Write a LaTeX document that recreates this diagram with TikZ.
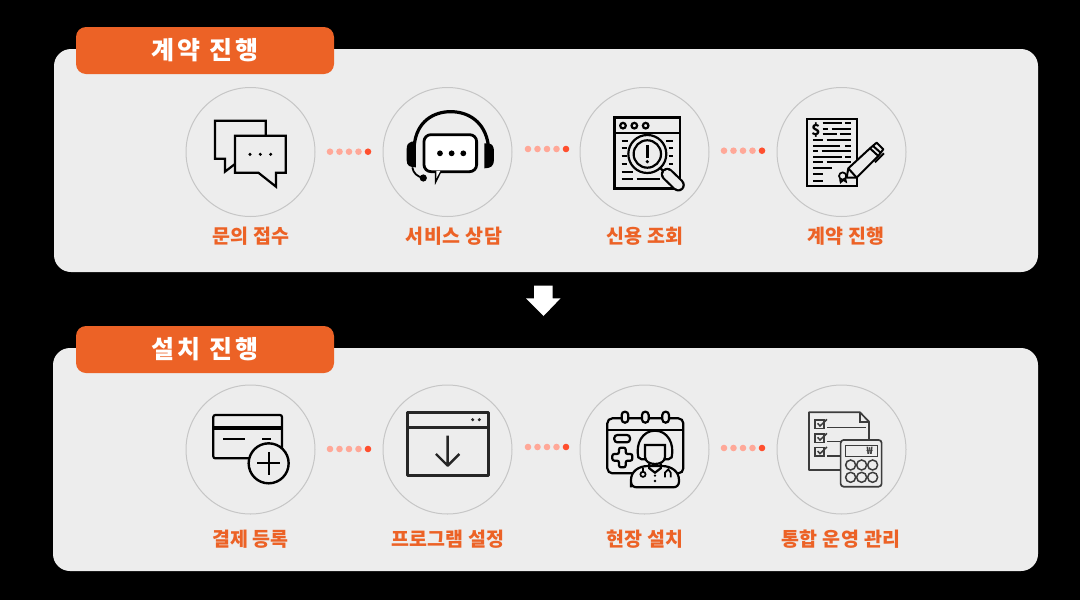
\documentclass[tikz,border=0pt]{standalone}
\usepackage{fontspec}
\newfontfamily\krfont{Noto Sans CJK KR}
\definecolor{brandorange}{HTML}{EC6226}
\definecolor{panelgray}{HTML}{EDEDED}
\definecolor{ringgray}{HTML}{C6C6C6}
\definecolor{pipsoft}{HTML}{FFA898}
\definecolor{piphard}{HTML}{FF4F2E}
\definecolor{calcgray}{HTML}{3C3C3C}
\tikzset{
  panelbox/.style={fill=panelgray,rounded corners=17pt,minimum width=985pt,minimum height=223pt,inner sep=0pt},
  titlebox/.style={fill=brandorange,rounded corners=10pt,minimum width=258pt,minimum height=47pt,inner sep=0pt,text=white,font=\krfont\bfseries\fontsize{25}{28}\selectfont},
  iconring/.style={circle,draw=ringgray,line width=1pt,minimum size=129pt,inner sep=0pt},
  steplabel/.style={text=brandorange,inner sep=0pt,font=\krfont\bfseries\fontsize{19.5}{22}\selectfont},
  pip/.style={circle,fill=pipsoft,minimum size=6.6pt,inner sep=0pt},
  piplast/.style={circle,fill=piphard,minimum size=6.6pt,inner sep=0pt},
  glyph/.style={draw=black,line width=2.2pt},
  rowa/.style={shift={(#1,80)},x=0.3333pt,y=-0.3333pt},
  rowb/.style={shift={(#1,380)},x=0.3333pt,y=-0.3333pt}
}
\begin{document}
\begin{tikzpicture}[x=1pt,y=-1pt]
  \useasboundingbox (0,0) rectangle (1080,600);
  \fill[black] (0,0) rectangle (1080,600);
  \node[panelbox,minimum width=984pt] (contractpanel) at (546,160.5) {};
  \node[panelbox] (setuppanel) at (545.5,459.5) {};
  \node[titlebox] (contracttitle) at (205,50.5) {\addfontfeature{LetterSpace=12}계약 진행};
  \node[titlebox] (setuptitle) at (205,349.5) {\addfontfeature{LetterSpace=12}설치 진행};
  \node[iconring] (inquiry) at (250.5,152) {};
  \node[iconring] (consult) at (447.5,152) {};
  \node[iconring] (credit) at (644.5,152) {};
  \node[iconring] (signing) at (841.5,152) {};
  \node[iconring] (payment) at (250.5,449.5) {};
  \node[iconring] (program) at (447.5,449.5) {};
  \node[iconring] (visit) at (644.5,449.5) {};
  \node[iconring] (manage) at (841.5,449.5) {};
  \node[steplabel] (inquirytext) at (251,236.5) {문의 접수};
  \node[steplabel] (consulttext) at (454,236.5) {\addfontfeature{LetterSpace=2.5}서비스 상담};
  \node[steplabel] (credittext) at (645,236.5) {신용 조회};
  \node[steplabel] (signingtext) at (846,236.5) {계약 진행};
  \node[steplabel] (paymenttext) at (250.5,539.5) {결제 등록};
  \node[steplabel] (programtext) at (448,539.5) {프로그램 설정};
  \node[steplabel] (visittext) at (645,539.5) {현장 설치};
  \node[steplabel] (managetext) at (841,539.5) {\addfontfeature{LetterSpace=3}통합 운영 관리};
  \foreach \name/\px/\py in {a/330/151.7,b/528/149,c/724/150.7,d/330/449,e/528/447,f/724/448} {
    \foreach \i in {0,1,2,3} {
      \node[pip] (pip\name\i) at ({\px+9.5*\i},\py) {};
    }
    \node[piplast] (pip\name4) at ({\px+38},\py) {};
  }
  \fill[white] (534,285.7) -- (552.7,285.7) -- (552.7,298.3) -- (560.5,298.3) -- (543.5,316) -- (526,298.3) -- (534,298.3) -- cycle;
  \begin{scope}[rowa=180]
    \draw[glyph] (257,165) -- (257,122) -- (105,122) -- (105,236) -- (135,236) -- (135,275) -- (165,252);
    \draw[glyph] (165,167) -- (317,167) -- (317,278) -- (288,278) -- (288,320) -- (235,278) -- (165,278) -- cycle;
    \foreach \dx in {210,241,272} { \fill (\dx,223) circle (1.7pt); }
    \draw[line width=3.2pt] (703,195) .. controls (710,125) and (760,95) .. (812,95) .. controls (865,95) and (915,125) .. (925,195);
    \fill (708,185) -- (695,185) .. controls (683,190) and (680,195) .. (680,210) -- (680,240) .. controls (680,258) and (690,262) .. (708,262) -- cycle;
    \fill (913,190) -- (925,190) .. controls (938,192) and (942,200) .. (942,215) -- (942,240) .. controls (942,258) and (932,265) .. (913,265) -- cycle;
    \draw[line width=1.8pt] (697,262) .. controls (700,280) and (712,290) .. (730,294);
    \fill (730,294) circle (3.6pt);
    \fill (765,270) -- (765,315) -- (787,270) -- cycle;
    \draw[line width=2.8pt,fill=white,rounded corners=7pt] (732,164) rectangle (890,275);
    \fill[white] (769,273) -- (769,295) -- (781,273) -- cycle;
    \foreach \dx in {780,815,850} { \fill (\dx,220) circle (2.9pt); }
  \end{scope}
  \begin{scope}[rowa=570]
    \draw[glyph,line width=2.6pt] (133,113) rectangle (330,325);
    \draw[glyph] (133,160) -- (330,160);
    \foreach \dx in {159,193,227} { \draw[glyph] (\dx,137) circle (2.8pt); }
    \draw[glyph] (155,182) -- (175,182) (155,205) -- (170,205) (155,228) -- (170,228) (155,252) -- (170,252);
    \draw[glyph] (288,182) -- (308,182) (296,205) -- (308,205) (296,228) -- (308,228) (296,252) -- (308,252);
    \draw[glyph] (155,275) -- (190,275) (155,298) -- (190,298) (200,298) -- (270,298);
    \draw[glyph,fill=panelgray] (232,222) circle (19pt);
    \draw[glyph] (232,222) circle (13.7pt);
    \draw[line width=2.8pt] (232,195) -- (232,234);
    \fill (232,245) circle (1.8pt);
    \draw[glyph] (268,262) -- (288,280);
    \draw[line width=13pt,line cap=round] (292,283) -- (325,315);
    \draw[line width=8.6pt,line cap=round,panelgray] (292,283) -- (325,315);
    \draw[glyph,line width=2pt] (710,116) rectangle (861,317);
    \node[inner sep=0pt,font=\krfont\bfseries\fontsize{15}{15}\selectfont] (dollar) at (738,150) {\$};
    \draw[glyph,line width=1.7pt] (758,130) -- (815,130) (825,130) -- (842,130) (758,147) -- (775,147) (785,147) -- (842,147) (758,162) -- (800,162) (810,162) -- (842,162);
    \draw[glyph,line width=1.7pt] (730,180) -- (760,180) (770,180) -- (842,180) (730,197) -- (810,197) (825,197) -- (842,197) (730,212) -- (745,212) (755,212) -- (842,212);
    \draw[glyph,line width=1.7pt] (730,230) -- (815,230) (825,230) -- (842,230) (730,246) -- (760,246) (770,246) -- (842,246) (730,265) -- (785,265) (730,282) -- (760,282) (730,303) -- (760,303);
    \draw[glyph,line width=1.7pt,fill=panelgray] (818,288) circle (3.6pt);
    \draw[glyph,line width=1.7pt] (810,298) -- (812,307) -- (820,300) -- (828,305) -- (826,295);
    \draw[glyph,line width=2pt,fill=panelgray,line join=round] (830,293) -- (835,265) -- (900,205) -- (920,188) -- (940,208) -- (925,228) -- (860,293) -- cycle;
    \draw[glyph,line width=2pt] (835,265) -- (860,293) (900,205) -- (925,228) (908,197) -- (932,218) (915,247) -- (942,220);
  \end{scope}
  \begin{scope}[rowb=180]
    \draw[glyph,rounded corners=2pt] (100,105) rectangle (306,235);
    \fill (100,138) rectangle (306,150);
    \draw[glyph,line width=1.8pt] (130,178) -- (195,178) (247,178) -- (273,178);
    \draw[glyph,line width=2.4pt,fill=panelgray] (266,250) circle (20pt);
    \draw[glyph,line width=1.8pt] (232,250) -- (300,250) (266,216) -- (266,284);
    \draw[line width=2.8pt,draw=black!85,line join=round] (682,97) rectangle (926,287);
    \draw[line width=2.4pt,draw=black!85] (682,142) -- (926,142);
    \fill[black!85] (878,119) circle (1.7pt) (898,119) circle (1.7pt);
    \draw[line width=2.4pt,draw=black!85,line join=round] (803,167) -- (803,255) (768,222) -- (803,257) -- (838,222);
  \end{scope}
  \begin{scope}[rowb=570]
    \draw[glyph,rounded corners=5pt] (112,115) rectangle (340,280);
    \draw[glyph] (112,150) -- (340,150);
    \foreach \dx in {165,226,287} { \draw[glyph,fill=panelgray,rounded corners=3.3pt] ({\dx-10},95) rectangle ({\dx+10},128); }
    \draw[glyph,rounded corners=3pt] (133,165) rectangle (180,187);
    \draw[glyph,rounded corners=2pt] (147,203) -- (167,203) -- (167,222) -- (187,222) -- (187,242) -- (167,242) -- (167,262) -- (147,262) -- (147,242) -- (127,242) -- (127,222) -- (147,222) -- cycle;
    \draw[glyph,fill=panelgray] (183,322) -- (183,300) .. controls (183,275) and (205,258) .. (235,258) -- (275,258) .. controls (305,258) and (327,275) .. (327,300) -- (327,305) .. controls (327,315) and (320,322) .. (310,322) -- (200,322) .. controls (190,322) and (183,315) .. (183,305) -- cycle;
    \draw[glyph,fill=panelgray] (215,238) -- (205,232) .. controls (196,190) and (218,152) .. (255,152) .. controls (292,152) and (314,190) .. (305,232) -- (295,238) -- cycle;
    \draw[glyph,fill=panelgray] (225,195) -- (285,195) -- (285,230) .. controls (285,245) and (270,252) .. (255,252) .. controls (240,252) and (225,245) .. (225,230) -- cycle;
    \draw[glyph] (238,250) -- (238,265) -- (255,278) -- (272,265) -- (272,250);
    \draw[glyph,line width=1.7pt] (219,283) circle (2.6pt) (219,275) -- (219,264) (285,292) -- (285,278) -- (295,268) -- (302,278) -- (302,292);
    \fill (255,287) circle (1.3pt) (255,303) circle (1.3pt);
    \draw[line width=1.7pt,draw=calcgray,line join=round] (897,180) -- (897,125) -- (870,97) -- (717,97) -- (717,270) -- (812,270);
    \draw[line width=1.7pt,draw=calcgray] (870,97) -- (870,125) -- (897,125);
    \foreach \dy in {120,162,203} {
      \draw[line width=1.5pt,draw=calcgray] (735,\dy) rectangle (762,{\dy+25});
      \draw[line width=1.5pt,draw=calcgray] (743,{\dy+10}) -- (750,{\dy+18}) -- (771,{\dy-2});
    }
    \draw[line width=1.5pt,draw=calcgray] (772,143) -- (888,143) (772,185) -- (812,185) (772,228) -- (812,228);
    \draw[line width=1.7pt,draw=calcgray,fill=panelgray,rounded corners=3pt] (812,180) rectangle (935,320);
    \draw[line width=1.5pt,draw=calcgray] (827,197) rectangle (922,230);
    \node[inner sep=0pt,text=calcgray,font=\krfont\bfseries\fontsize{10}{10}\selectfont] (won) at (899,213) {₩};
    \foreach \dx in {842,875,908} {
      \draw[line width=1.5pt,draw=calcgray] (\dx,255) circle (5pt);
      \draw[line width=1.5pt,draw=calcgray] (\dx,292) circle (5pt);
    }
  \end{scope}
\end{tikzpicture}
\end{document}
